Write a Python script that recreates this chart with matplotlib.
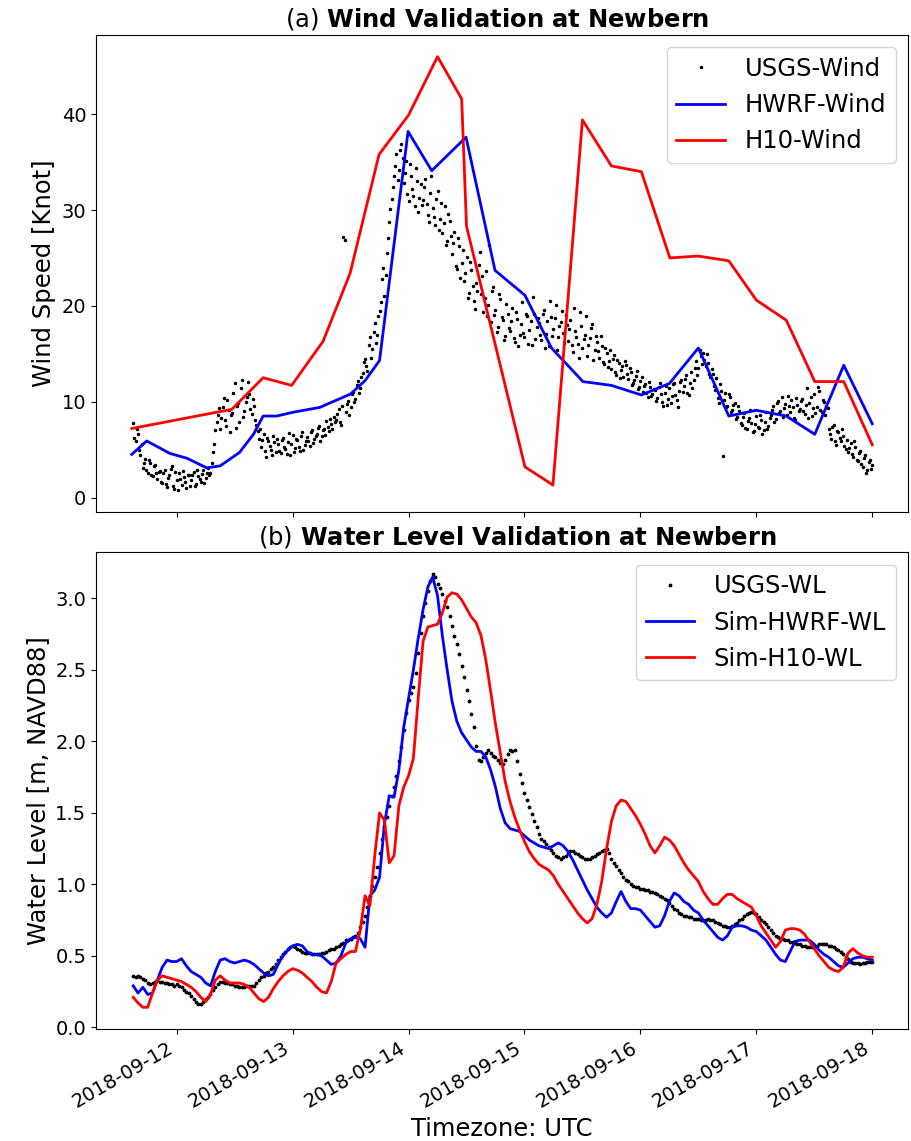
"""Wind and water level validation at Newbern (Hurricane Florence, Sept 2018)."""

import numpy as np
import pandas as pd
import matplotlib
matplotlib.use("Agg")
import matplotlib.pyplot as plt
import matplotlib.dates as mdates

BASE = pd.Timestamp("2018-09-12 00:00")

# ---- panel (a): wind speed [knot] ----
# USGS observations, every 30 min starting 2018-09-11 15:00
usgs_wind = [
    7.8, 5.9, 6.6, 4.4, 3.1, 4.0, 2.6, 3.6, 2.2, 3.4, 1.9, 2.8,
    1.5, 2.9, 1.1, 2.3, 3.3, 0.9, 1.8, 2.6, 1.3, 2.1, 1.0, 2.4,
    1.8, 2.7, 1.4, 2.2, 1.6, 2.9, 2.0, 3.1, 2.6, 4.8, 7.0, 8.6,
    7.2, 9.4, 8.1, 10.2, 6.8, 8.8, 11.9, 9.6, 7.9, 12.3, 9.0, 10.5,
    10.8, 8.7, 9.5, 7.6, 6.1, 5.3, 6.6, 4.2, 5.9, 5.0, 6.4, 4.7,
    5.6, 4.6, 6.2, 5.1, 5.8, 4.4, 6.5, 5.2, 6.0, 4.9, 6.8, 5.5,
    6.3, 5.4, 7.0, 6.1, 6.6, 7.5, 6.4, 7.2, 8.0, 6.9, 7.7, 8.4,
    8.1, 9.2, 7.6, 27.2, 8.9, 10.1, 9.4, 11.0, 10.3, 12.2, 11.4, 13.0,
    14.5, 13.2, 16.8, 15.5, 18.2, 17.0, 19.5, 22.8, 21.0, 25.5, 28.8, 31.2,
    33.5, 35.8, 34.2, 36.9, 32.8, 35.1, 30.9, 33.6, 31.5, 34.4, 29.8, 32.7,
    31.0, 33.2, 29.5, 31.8, 30.2, 28.4, 32.0, 29.1, 27.6, 30.4, 26.8, 28.9,
    25.4, 27.7, 23.8, 26.2, 24.5, 22.6, 25.1, 21.3, 23.7, 20.5, 22.4, 24.3,
    21.2, 19.4, 23.6, 20.1, 18.3, 22.0, 19.6, 17.8, 20.7, 18.5, 16.9, 19.2,
    17.4, 19.8, 16.2, 18.6, 17.0, 20.4, 16.8, 18.9, 17.5, 15.9, 19.1, 17.8,
    18.2, 16.4, 19.6, 17.1, 15.8, 18.8, 17.6, 20.1, 16.7, 18.3, 17.2, 19.0,
    16.3, 18.5, 15.2, 17.4, 16.0, 19.4, 15.6, 17.0, 14.8, 16.6, 18.1, 15.4,
    16.2, 14.6, 15.8, 13.9, 15.1, 14.2, 13.4, 14.9, 12.8, 14.0, 13.3, 12.6,
    13.8, 12.4, 13.1, 11.9, 12.7, 11.3, 12.2, 11.0, 11.8, 10.5, 11.5, 10.8,
    11.2, 10.4, 11.9, 10.0, 10.9, 9.7, 11.4, 10.6, 12.0, 10.2, 11.1, 12.3,
    11.6, 12.8, 10.7, 13.1, 12.3, 14.2, 13.5, 14.8, 15.1, 13.7, 14.0, 12.6,
    12.9, 11.2, 10.4, 11.8, 4.3, 10.9, 9.6, 10.5, 9.1, 9.9, 8.4, 9.0,
    7.6, 8.8, 7.1, 8.3, 7.8, 6.9, 8.5, 7.3, 8.1, 7.0, 8.9, 7.5,
    8.6, 9.5, 8.2, 10.1, 9.0, 8.4, 9.8, 10.6, 8.9, 9.4, 8.1, 9.7,
    9.2, 10.3, 8.7, 11.4, 9.9, 8.5, 10.8, 9.4, 11.1, 8.9, 10.0, 9.6,
    7.2, 6.1, 7.6, 5.5, 6.8, 5.9, 6.4, 5.1, 4.8, 5.7, 4.2, 5.3,
    3.8, 4.9, 3.2, 4.4, 2.9, 3.9, 3.4,
]
usgs_wind_start_h = -9.0
# the in-between samples (every 30 min starting 2018-09-11 15:15)
usgs_wind_mid = [
    6.2, 7.1, 5.0, 5.6, 3.6, 2.9, 3.9, 2.4, 3.3, 2.6, 2.7, 1.6,
    2.6, 1.4, 2.0, 3.0, 1.2, 2.7, 0.8, 1.9, 2.8, 1.6, 2.3, 1.2,
    2.4, 1.2, 2.9, 1.9, 2.5, 1.5, 2.6, 2.3, 3.6, 5.6, 7.9, 9.3,
    8.3, 10.4, 7.5, 9.1, 8.6, 10.9, 7.3, 9.9, 11.4, 8.4, 10.0, 12.1,
    9.2, 10.3, 8.1, 6.9, 7.2, 6.0, 4.9, 6.2, 5.4, 4.4, 5.8, 6.1,
    4.9, 6.0, 5.3, 4.5, 6.7, 5.6, 4.8, 6.1, 5.3, 6.4, 5.0, 5.9,
    5.9, 6.8, 5.7, 6.4, 7.3, 5.9, 7.0, 6.5, 7.4, 8.2, 7.1, 7.9,
    8.7, 7.9, 9.6, 26.9, 9.8, 8.6, 10.8, 10.0, 11.7, 10.9, 12.6, 14.1,
    13.7, 15.9, 14.6, 17.3, 16.1, 18.9, 20.4, 24.0, 23.2, 27.1, 30.1, 32.4,
    34.6, 33.1, 36.3, 35.4, 33.9, 31.7, 34.8, 32.2, 30.4, 33.0, 31.3, 30.5,
    32.4, 30.6, 28.7, 33.5, 29.3, 31.1, 27.9, 30.7, 28.6, 26.3, 29.6, 27.3,
    26.6, 24.2, 27.1, 22.9, 25.8, 23.4, 20.8, 24.6, 22.1, 19.7, 21.6, 25.6,
    23.1, 20.8, 18.9, 26.3, 21.5, 19.0, 17.3, 21.2, 18.8, 16.4, 20.2, 17.7,
    18.4, 16.6, 19.4, 15.8, 18.1, 17.2, 19.2, 16.0, 18.4, 20.9, 16.5, 18.7,
    17.0, 19.1, 15.6, 18.4, 20.5, 16.9, 18.7, 15.4, 17.9, 19.5, 16.1, 18.0,
    17.6, 15.9, 19.8, 16.8, 14.6, 17.9, 16.5, 18.9, 15.9, 17.7, 14.3, 16.9,
    15.3, 16.9, 14.1, 15.6, 13.6, 15.4, 14.5, 13.1, 14.3, 12.5, 13.7, 14.2,
    12.9, 13.5, 11.7, 12.3, 13.2, 11.5, 12.6, 11.6, 10.9, 12.1, 10.6, 11.3,
    10.1, 11.5, 10.8, 9.5, 11.6, 10.3, 9.9, 11.8, 10.7, 9.4, 12.1, 11.0,
    12.4, 10.9, 12.0, 11.4, 13.5, 12.8, 15.4, 13.9, 14.4, 15.0, 12.9, 13.4,
    11.6, 12.5, 9.9, 11.1, 10.2, 9.4, 10.8, 8.9, 9.7, 8.2, 9.5, 7.8,
    8.4, 7.3, 8.0, 9.1, 6.8, 7.7, 7.4, 8.6, 6.6, 7.9, 7.2, 8.3,
    9.1, 7.9, 9.9, 8.8, 10.5, 9.3, 8.6, 9.5, 10.2, 8.3, 10.4, 9.0,
    10.1, 9.0, 9.7, 8.3, 10.5, 9.3, 8.8, 11.5, 9.1, 10.2, 8.6, 9.3,
    6.6, 7.4, 5.9, 6.9, 6.2, 7.1, 5.4, 6.0, 5.2, 4.5, 5.9, 3.9,
    4.6, 3.5, 4.1, 2.6, 3.7, 3.0,
]
usgs_wind_mid_start_h = -8.75

# model winds, hours relative to 2018-09-12 00:00
hwrf_wind_h = [-9.3, -6.2, -1.4, 2.1, 6.2, 9.0, 13.0, 15.9, 17.9, 20.7, 24.1, 29.6,
               36.0, 39.0, 42.0, 47.9, 52.8, 59.9, 65.9, 72.1, 77.6, 84.1, 90.0,
               96.2, 102.0, 108.0, 114.3, 120.0, 126.2, 132.1, 138.1, 144.0]
hwrf_wind = [4.5, 5.9, 4.6, 4.1, 3.1, 3.3, 4.7, 6.6, 8.5, 8.5, 8.9, 9.4,
             10.8, 12.2, 14.3, 38.2, 34.1, 37.6, 23.7, 21.1, 15.6, 12.1, 11.7,
             10.7, 11.9, 15.6, 8.5, 9.1, 8.5, 6.6, 13.8, 7.7]

h10_wind_h = [-9.3, 11.4, 17.9, 23.8, 30.3, 35.9, 41.9, 48.0, 54.0, 59.0, 60.0, 72.1,
              77.9, 84.0, 90.0, 96.2, 102.1, 107.9, 114.3, 120.0, 126.2, 132.1, 138.1, 144.0]
h10_wind = [7.2, 9.2, 12.5, 11.7, 16.3, 23.4, 35.8, 39.9, 46.0, 41.6, 28.3, 3.2,
            1.3, 39.4, 34.6, 34.0, 25.0, 25.2, 24.7, 20.6, 18.5, 12.1, 12.1, 5.5]

# ---- panel (b): water level [m, NAVD88] ----
# USGS gauge, every 30 min starting 2018-09-11 15:00
usgs_wl = [
    0.36, 0.35, 0.36, 0.35, 0.34, 0.33, 0.31, 0.30, 0.31, 0.32, 0.33, 0.32,
    0.32, 0.31, 0.31, 0.30, 0.30, 0.29, 0.30, 0.29, 0.28, 0.26, 0.25, 0.24,
    0.22, 0.20, 0.18, 0.16, 0.16, 0.18, 0.20, 0.21, 0.23, 0.26, 0.28, 0.30,
    0.32, 0.32, 0.31, 0.31, 0.30, 0.30, 0.29, 0.29, 0.28, 0.28, 0.28, 0.29,
    0.29, 0.29, 0.29, 0.31, 0.33, 0.35, 0.36, 0.38, 0.39, 0.41, 0.42, 0.44,
    0.47, 0.49, 0.51, 0.53, 0.55, 0.56, 0.57, 0.56, 0.55, 0.54, 0.53, 0.52,
    0.52, 0.52, 0.51, 0.51, 0.51, 0.51, 0.52, 0.52, 0.53, 0.54, 0.55, 0.55,
    0.56, 0.57, 0.58, 0.59, 0.61, 0.61, 0.62, 0.63, 0.64, 0.66, 0.70, 0.74,
    0.78, 0.84, 0.92, 0.99, 1.05, 1.12, 1.22, 1.32, 1.40, 1.47, 1.55, 1.62,
    1.68, 1.76, 1.86, 1.96, 2.08, 2.20, 2.29, 2.34, 2.38, 2.48, 2.62, 2.76,
    2.88, 2.97, 3.05, 3.12, 3.17, 3.15, 3.10, 3.07, 3.03, 2.98, 2.94, 2.88,
    2.81, 2.74, 2.68, 2.61, 2.53, 2.45, 2.36, 2.28, 2.19, 2.10, 1.97, 1.87,
    1.86, 1.89, 1.92, 1.94, 1.92, 1.90, 1.89, 1.87, 1.85, 1.84, 1.87, 1.91,
    1.94, 1.93, 1.94, 1.86, 1.77, 1.71, 1.64, 1.59, 1.54, 1.49, 1.44, 1.40,
    1.35, 1.32, 1.30, 1.28, 1.26, 1.24, 1.22, 1.20, 1.19, 1.18, 1.19, 1.20,
    1.22, 1.23, 1.23, 1.22, 1.21, 1.20, 1.19, 1.18, 1.18, 1.18, 1.19, 1.20,
    1.21, 1.22, 1.23, 1.24, 1.25, 1.22, 1.18, 1.15, 1.13, 1.10, 1.08, 1.05,
    1.03, 1.02, 1.00, 0.99, 0.98, 0.98, 0.97, 0.97, 0.96, 0.96, 0.95, 0.95,
    0.94, 0.93, 0.92, 0.91, 0.90, 0.89, 0.87, 0.85, 0.83, 0.82, 0.80, 0.79,
    0.78, 0.78, 0.77, 0.77, 0.76, 0.76, 0.76, 0.75, 0.75, 0.75, 0.76, 0.75,
    0.75, 0.74, 0.73, 0.72, 0.71, 0.71, 0.70, 0.70, 0.71, 0.72, 0.73, 0.75,
    0.76, 0.78, 0.79, 0.80, 0.81, 0.80, 0.79, 0.77, 0.75, 0.74, 0.72, 0.70,
    0.68, 0.66, 0.64, 0.63, 0.62, 0.62, 0.61, 0.61, 0.60, 0.60, 0.59, 0.58,
    0.58, 0.57, 0.57, 0.56, 0.56, 0.56, 0.57, 0.57, 0.58, 0.58, 0.58, 0.58,
    0.57, 0.57, 0.56, 0.55, 0.54, 0.53, 0.51, 0.49, 0.48, 0.46, 0.45, 0.45,
    0.45, 0.44, 0.45, 0.45, 0.46, 0.46, 0.46,
]
usgs_wl_start_h = -9.0

# simulated water levels, hourly starting 2018-09-11 15:00
sim_hwrf_wl = [
    0.29, 0.24, 0.28, 0.23, 0.24, 0.33, 0.42, 0.47, 0.46, 0.46, 0.48, 0.43,
    0.39, 0.37, 0.35, 0.31, 0.29, 0.39, 0.47, 0.48, 0.46, 0.45, 0.46, 0.47,
    0.46, 0.44, 0.41, 0.38, 0.36, 0.37, 0.44, 0.50, 0.54, 0.57, 0.58, 0.57,
    0.53, 0.51, 0.51, 0.50, 0.47, 0.44, 0.45, 0.50, 0.59, 0.62, 0.63, 0.62,
    0.56, 0.92, 0.96, 1.05, 1.42, 1.62, 1.61, 1.80, 2.10, 2.30, 2.50, 2.72,
    2.92, 3.08, 3.15, 3.02, 2.74, 2.50, 2.28, 2.14, 2.06, 2.01, 1.96, 1.93,
    1.93, 1.89, 1.80, 1.68, 1.53, 1.43, 1.39, 1.38, 1.37, 1.34, 1.31, 1.29,
    1.27, 1.26, 1.25, 1.27, 1.29, 1.27, 1.23, 1.17, 1.10, 1.03, 0.96, 0.90,
    0.84, 0.80, 0.77, 0.80, 0.88, 0.95, 0.88, 0.83, 0.83, 0.82, 0.78, 0.74,
    0.70, 0.71, 0.78, 0.88, 0.94, 0.92, 0.88, 0.86, 0.82, 0.80, 0.75, 0.71,
    0.67, 0.63, 0.61, 0.64, 0.70, 0.71, 0.71, 0.70, 0.68, 0.67, 0.64, 0.61,
    0.56, 0.51, 0.47, 0.46, 0.53, 0.60, 0.61, 0.61, 0.61, 0.58, 0.54, 0.51,
    0.49, 0.46, 0.43, 0.42, 0.45, 0.48, 0.49, 0.49, 0.48, 0.47,
]
sim_h10_wl = [
    0.21, 0.17, 0.14, 0.14, 0.24, 0.33, 0.36, 0.35, 0.34, 0.33, 0.32, 0.30,
    0.28, 0.25, 0.21, 0.18, 0.23, 0.33, 0.36, 0.33, 0.31, 0.31, 0.31, 0.30,
    0.28, 0.24, 0.20, 0.18, 0.21, 0.27, 0.32, 0.36, 0.39, 0.41, 0.40, 0.38,
    0.35, 0.32, 0.28, 0.25, 0.24, 0.32, 0.45, 0.48, 0.51, 0.53, 0.53, 0.68,
    0.92, 0.85, 1.20, 1.50, 1.45, 1.15, 1.20, 1.55, 1.68, 1.76, 1.88, 2.30,
    2.70, 2.80, 2.81, 2.82, 2.90, 3.01, 3.04, 3.03, 2.99, 2.93, 2.87, 2.83,
    2.74, 2.57, 2.35, 2.12, 1.92, 1.72, 1.58, 1.47, 1.38, 1.30, 1.23, 1.18,
    1.14, 1.12, 1.10, 1.06, 1.00, 0.95, 0.90, 0.85, 0.80, 0.76, 0.73, 0.76,
    0.86, 1.02, 1.25, 1.44, 1.55, 1.59, 1.58, 1.53, 1.48, 1.42, 1.35, 1.27,
    1.22, 1.27, 1.33, 1.31, 1.27, 1.21, 1.15, 1.10, 1.06, 1.02, 0.95, 0.90,
    0.86, 0.86, 0.90, 0.93, 0.93, 0.90, 0.88, 0.86, 0.84, 0.78, 0.71, 0.66,
    0.61, 0.56, 0.60, 0.68, 0.69, 0.69, 0.68, 0.65, 0.60, 0.55, 0.50, 0.46,
    0.42, 0.40, 0.39, 0.42, 0.52, 0.55, 0.52, 0.50, 0.49, 0.49,
]
sim_wl_start_h = -9.0

X_RANGE_H = (-16.7, 151.4)


def to_time(hours):
    return BASE + pd.to_timedelta(np.asarray(hours, dtype=float), unit="h")


def regular_times(start_h, step_h, n):
    return to_time(start_h + step_h * np.arange(n))


def plot_validation(output_path="out.png"):
    fig, (ax1, ax2) = plt.subplots(2, 1, figsize=(9.11, 11.41), dpi=100, sharex=True)
    fig.subplots_adjust(left=0.1054, right=0.9967, top=0.9693, bottom=0.0982, hspace=0.086)

    # (a) wind
    wind_t = regular_times(usgs_wind_start_h, 0.5, len(usgs_wind))
    wind_mid_t = regular_times(usgs_wind_mid_start_h, 0.5, len(usgs_wind_mid))
    ax1.plot(wind_t, usgs_wind, "k.", ms=3, label="USGS-Wind")
    ax1.plot(wind_mid_t, usgs_wind_mid, "k.", ms=3)
    ax1.plot(to_time(hwrf_wind_h), hwrf_wind, color="blue", lw=2, label="HWRF-Wind")
    ax1.plot(to_time(h10_wind_h), h10_wind, color="red", lw=2, label="H10-Wind")
    ax1.set_ylabel("Wind Speed [Knot]", fontsize=17.5)
    ax1.set_title(r"(a) $\bf{Wind\ Validation\ at\ Newbern}$", fontsize=17.5, x=0.494)
    ax1.legend(loc="upper right", fontsize=17.5)

    # (b) water level
    ax2.plot(regular_times(usgs_wl_start_h, 0.5, len(usgs_wl)), usgs_wl,
             "k.", ms=3.5, label="USGS-WL")
    ax2.plot(regular_times(sim_wl_start_h, 1.0, len(sim_hwrf_wl)), sim_hwrf_wl,
             color="blue", lw=2, label="Sim-HWRF-WL")
    ax2.plot(regular_times(sim_wl_start_h, 1.0, len(sim_h10_wl)), sim_h10_wl,
             color="red", lw=2, label="Sim-H10-WL")
    ax2.set_ylabel("Water Level [m, NAVD88]", fontsize=17.5)
    ax2.set_xlabel("Timezone: UTC", fontsize=17.5)
    ax2.set_title(r"(b) $\bf{Water\ Level\ Validation\ at\ Newbern}$", fontsize=17.5, x=0.519)
    ax2.legend(loc="upper right", fontsize=17.5)

    ax2.set_xlim(to_time(X_RANGE_H[0]), to_time(X_RANGE_H[1]))
    ax2.xaxis.set_major_locator(mdates.DayLocator())
    ax2.xaxis.set_major_formatter(mdates.DateFormatter("%Y-%m-%d"))
    for ax in (ax1, ax2):
        ax.tick_params(labelsize=14)
    plt.setp(ax2.get_xticklabels(), rotation=30, ha="right")

    fig.savefig(output_path, dpi=100)


if __name__ == "__main__":
    plot_validation()
